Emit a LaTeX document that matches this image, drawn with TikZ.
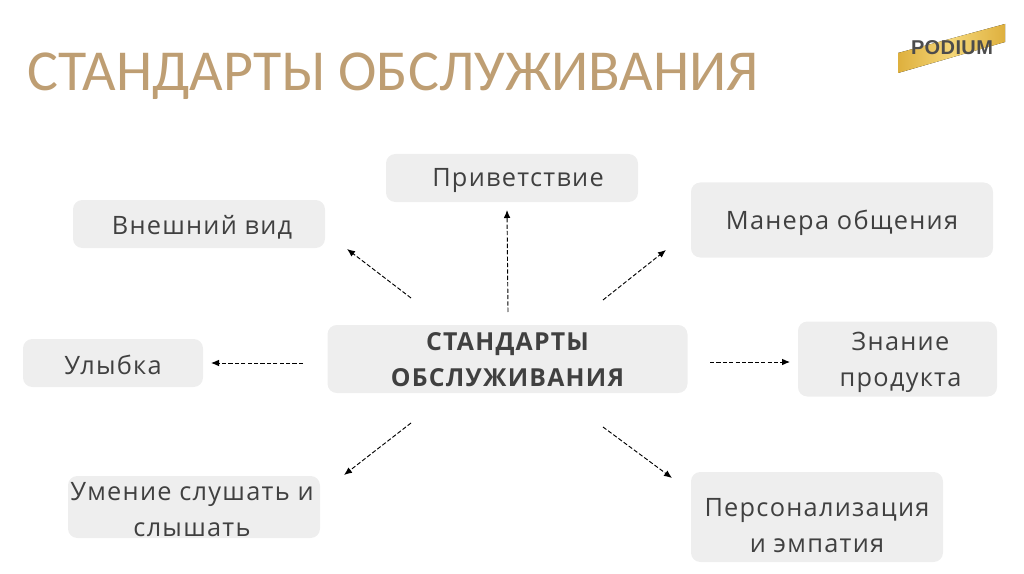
\documentclass[tikz,border=0pt]{standalone}
\usepackage{fontspec}
\setmainfont{Open Sans}
\newfontfamily\spacedfont[LetterSpace=5]{Open Sans}
\newfontfamily\headfont{Carlito}
\newfontfamily\logofont[LetterSpace=2]{Liberation Sans}
\usetikzlibrary{arrows.meta}
\definecolor{titletan}{RGB}{190,158,115}
\definecolor{boxgrey}{RGB}{238,238,238}
\definecolor{textgrey}{RGB}{64,64,64}
\definecolor{goldlight}{RGB}{244,214,120}
\definecolor{golddark}{RGB}{222,176,62}
\tikzset{
  standard/.style={fill=boxgrey, rounded corners=7pt, inner sep=0pt, align=center,
    text=textgrey, font=\fontsize{19}{27}\spacedfont,
    execute at begin node={\rule{0pt}{#1}}},
  standard/.default=19pt,
  hub/.style={standard=42pt, font=\fontsize{18.6}{27}\spacedfont\bfseries},
  link/.style={draw=black, dash pattern=on 3.2pt off 1.6pt, line width=0.7pt, -{Latex[length=6pt,width=5pt]}}
}
\begin{document}
\begin{tikzpicture}[x=0.75pt,y=-0.75pt]
    \useasboundingbox (0,0) rectangle (1024,574);
 %heading
    \node [text=titletan, font=\fontsize{43.5}{54}\headfont, anchor=west, inner sep=0pt] (heading) at (27,76) {СТАНДАРТЫ ОБСЛУЖИВАНИЯ};
 %logo
    \fill [left color=golddark, right color=golddark, middle color=goldlight] (898,53) -- (1005,24) -- (1005,42) -- (898,73) -- cycle;
    \node [text=black!70, font=\fontsize{15}{15}\logofont\bfseries, inner sep=0pt] (logo) at (952,48) {PODIUM};
 %centre
    \node [hub, minimum width=360*0.75pt, minimum height=68*0.75pt] (centre) at (507.5,359) {СТАНДАРТЫ\\ОБСЛУЖИВАНИЯ};
 %boxes
    \node [standard=18pt, minimum width=252*0.75pt, minimum height=48*0.75pt] (greeting) at (512,178) {\hspace*{9pt}Приветствие};
    \node [standard, minimum width=252*0.75pt, minimum height=48*0.75pt] (appearance) at (199,224) {\hspace*{4.5pt}Внешний вид};
    \node [standard, minimum width=302*0.75pt, minimum height=75*0.75pt] (manner) at (842,220) {Манера общения};
    \node [standard=17pt, minimum width=180*0.75pt, minimum height=48*0.75pt] (smile) at (113,363) {Улыбка};
    \node [standard=45.5pt, minimum width=199*0.75pt, minimum height=75*0.75pt] (knowledge) at (897.5,359) {\hspace*{4.5pt}Знание\\\hspace*{4.5pt}продукта};
    \node [standard=44pt, minimum width=252*0.75pt, minimum height=62*0.75pt] (listening) at (194,507) {Умение слушать и\hspace*{3pt}\\слышать\hspace*{3pt}};
    \node [standard=53pt, minimum width=252*0.75pt, minimum height=90*0.75pt] (empathy) at (817,517) {Персонализация\\и эмпатия};
 %arrow ends
    \coordinate (a1) at (508,312);
    \coordinate (a2) at (507,210);
    \coordinate (b1) at (411,298);
    \coordinate (b2) at (347,249);
    \coordinate (c1) at (603,300);
    \coordinate (c2) at (666,250);
    \coordinate (d1) at (303,363);
    \coordinate (d2) at (211,363);
    \coordinate (e1) at (710,362);
    \coordinate (e2) at (790,362);
    \coordinate (f1) at (411,423);
    \coordinate (f2) at (344,475);
    \coordinate (g1) at (603,427);
    \coordinate (g2) at (672,478);
 %arrows
    \draw [link] (a1) -- (a2);
    \draw [link] (b1) -- (b2);
    \draw [link] (c1) -- (c2);
    \draw [link] (d1) -- (d2);
    \draw [link] (e1) -- (e2);
    \draw [link] (f1) -- (f2);
    \draw [link] (g1) -- (g2);
\end{tikzpicture}
\end{document}
